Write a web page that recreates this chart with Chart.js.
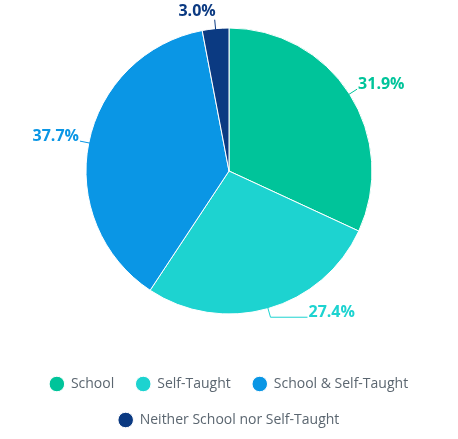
<!DOCTYPE html>
<html lang="en">
<head>
    <meta charset="UTF-8">
    <title>School vs Self-Taught</title>
    <script src="https://cdn.jsdelivr.net/npm/chart.js"></script>
    <style>
        html, body { margin: 0; padding: 0; background: #fff; }
        .chart-container { width: 458px; height: 439px; }
    </style>
</head>
<body>
    <div class="chart-container">
        <canvas id="pieChart"></canvas>
    </div>

    <script>
        // data
        const categories = ['School', 'Self-Taught', 'School & Self-Taught', 'Neither School nor Self-Taught'];
        const shares = [31.9, 27.4, 37.7, 3.0];
        const colors = ['#00c49a', '#1dd3d0', '#0a96e5', '#0b3a82'];

        // extra horizontal length of each leader line (px)
        const leaderExtra = [0, 37, 0, 0];

        // pull the pie area up a bit so the pie sits higher above the legend
        const pieArea = {
            id: 'pieArea',
            afterLayout(chart) {
                chart.chartArea.bottom = 342;
                chart.chartArea.height = chart.chartArea.bottom - chart.chartArea.top;
            }
        };

        // draws the % labels outside the pie with small leader lines
        const outsideLabels = {
            id: 'outsideLabels',
            afterDatasetsDraw(chart) {
                const ctx = chart.ctx;
                const meta = chart.getDatasetMeta(0);
                ctx.save();
                ctx.font = 'bold 16px "Open Sans"';
                ctx.lineWidth = 1;
                meta.data.forEach((arc, i) => {
                    const { x, y, startAngle, endAngle, outerRadius } = arc.getProps(['x', 'y', 'startAngle', 'endAngle', 'outerRadius'], true);
                    const mid = (startAngle + endAngle) / 2;
                    const cos = Math.cos(mid), sin = Math.sin(mid);
                    const x0 = x + cos * (outerRadius - 1), y0 = y + sin * (outerRadius - 1);
                    const x1 = x + cos * (outerRadius + 9), y1 = y + sin * (outerRadius + 9);
                    const right = cos >= 0;
                    const x2 = x1 + (right ? 1 : -1) * leaderExtra[i];
                    ctx.strokeStyle = colors[i];
                    ctx.fillStyle = colors[i];
                    ctx.beginPath();
                    ctx.moveTo(x0, y0);
                    ctx.lineTo(x1, y1);
                    ctx.lineTo(x2, y1);
                    ctx.stroke();
                    const txt = shares[i].toFixed(1) + '%';
                    ctx.textBaseline = 'middle';
                    if (Math.abs(sin) > 0.98) {
                        ctx.textAlign = 'right';
                        ctx.fillText(txt, x2 + 1, y1 - 8);
                    } else {
                        ctx.textAlign = right ? 'left' : 'right';
                        ctx.fillText(txt, x2 + (right ? 1 : -1), y1 - 5);
                    }
                });
                ctx.restore();
            }
        };

        const pieCtx = document.getElementById('pieChart').getContext('2d');
        new Chart(pieCtx, {
            type: 'pie',
            data: {
                labels: categories,
                datasets: [{
                    data: shares,
                    backgroundColor: colors,
                    borderColor: '#ffffff',
                    borderWidth: 1
                }]
            },
            options: {
                responsive: true,
                maintainAspectRatio: false,
                animation: false,
                radius: 143,
                layout: {
                    padding: { top: 0, bottom: 2, left: 0, right: 0 }
                },
                plugins: {
                    tooltip: { enabled: false },
                    legend: {
                        position: 'bottom',
                        labels: {
                            usePointStyle: true,
                            pointStyle: 'circle',
                            boxWidth: 14,
                            boxHeight: 11,
                            padding: 22,
                            color: '#5b6670',
                            font: { family: '"Open Sans"', size: 14 }
                        }
                    }
                }
            },
            plugins: [pieArea, outsideLabels]
        });
    </script>
</body>
</html>
